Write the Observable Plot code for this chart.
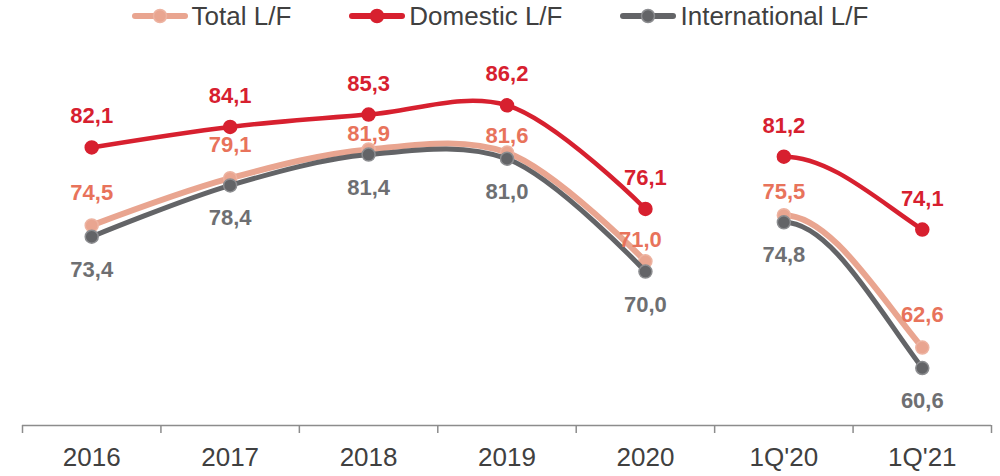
<!DOCTYPE html>
<html>
<head>
<meta charset="utf-8">
<script src="https://cdn.jsdelivr.net/npm/d3@7"></script>
<script src="https://cdn.jsdelivr.net/npm/@observablehq/plot@0.6"></script>
<style>
  html, body { margin: 0; padding: 0; background: #fff; }
  body { width: 1000px; height: 476px; overflow: hidden; font-family: "Liberation Sans", Arial, sans-serif; }
  #legend { height: 32px; display: flex; justify-content: center; align-items: center; gap: 58px; color: #404040; font-size: 26px; }
  .item { display: flex; align-items: center; gap: 4px; }
  .item svg { display: block; }
</style>
</head>
<body>
<div id="legend"></div>
<div id="chart"></div>
<script>
// ---- data ----
const categories = ["2016", "2017", "2018", "2019", "2020", "1Q'20", "1Q'21"];
const periodGroup = ["annual", "annual", "annual", "annual", "annual", "quarterly", "quarterly"];
const totalLF = [74.5, 79.1, 81.9, 81.6, 71.0, 75.5, 62.6];
const domesticLF = [82.1, 84.1, 85.3, 86.2, 76.1, 81.2, 74.1];
const internationalLF = [73.4, 78.4, 81.4, 81.0, 70.0, 74.8, 60.6];
const seriesNames = ["Total L/F", "Domestic L/F", "International L/F"];

// ---- styles ----
const lineColor = { "Total L/F": "#E9A590", "Domestic L/F": "#D7202F", "International L/F": "#636467" };
const dotStroke = { "Total L/F": "#EDB3A1", "Domestic L/F": "#D7202F", "International L/F": "#8C8D90" };
const labelColor = { "Total L/F": "#E8735B", "Domestic L/F": "#D7202F", "International L/F": "#6E6F72" };
const lineWidth = { "Total L/F": 6, "Domestic L/F": 4.5, "International L/F": 5 };
const totalLabelDy = [-32, -33, -16, -17, -21, -23, -33];
const totalLabelDx = [0, 0, 0, 0, -5, 0, 0];

const seriesValues = { "Total L/F": totalLF, "Domestic L/F": domesticLF, "International L/F": internationalLF };
const rows = [];
for (const s of seriesNames) {
  seriesValues[s].forEach((v, i) => rows.push({ series: s, i, cat: categories[i], group: periodGroup[i], value: v }));
}
const fmt = v => d3.format(".1f")(v).replace(".", ",");
const bySeries = s => rows.filter(d => d.series === s);

// smoothing similar to spreadsheet "smoothed line"
function smoothCurve(context) {
  let pts;
  return {
    areaStart() {}, areaEnd() {},
    lineStart() { pts = []; },
    point(x, y) { pts.push([+x, +y]); },
    lineEnd() {
      if (pts.length === 2) {
        const [[x0, y0], [x1, y1]] = pts;
        const dx = x1 - x0, dy = y1 - y0;
        context.moveTo(x0, y0);
        context.bezierCurveTo(x0 + dx / 3, y0, x1 - dx / 3, y0 + dy * 0.58, x1, y1);
      } else {
        const c = d3.curveCatmullRom(context);
        c.lineStart();
        for (const p of pts) c.point(p[0], p[1]);
        c.lineEnd();
      }
    }
  };
}

// legend
const legend = document.getElementById("legend");
for (const s of seriesNames) {
  const item = document.createElement("div");
  item.className = "item";
  item.innerHTML = `<svg width="56" height="16"><line x1="3" x2="53" y1="8" y2="8" stroke="${lineColor[s]}" stroke-width="6" stroke-linecap="round"/><circle cx="28" cy="8" r="6.5" fill="${lineColor[s]}" stroke="${dotStroke[s]}" stroke-width="1.5"/></svg><span>${s}</span>`;
  legend.appendChild(item);
}

const boundaries = d3.range(categories.length + 1).map(i => i - 0.5);
const yMin = 55;

const marks = [
  Plot.ruleY([yMin], { stroke: "#8C8C8C", strokeWidth: 1.5 }),
  Plot.axisX({ ticks: boundaries, tickSize: 8, tickFormat: () => "", label: null, stroke: "#8C8C8C", strokeWidth: 1.5 }),
  Plot.axisX({ ticks: d3.range(categories.length), tickSize: 0, tickPadding: 22, label: null, tickFormat: i => categories[i], fontSize: 26, fill: "#404040" })
];

for (const s of ["Total L/F", "International L/F", "Domestic L/F"]) {
  const data = bySeries(s);
  marks.push(
    Plot.line(data, { x: "i", y: "value", z: "group", stroke: lineColor[s], strokeWidth: lineWidth[s], curve: smoothCurve, strokeLinejoin: "round", strokeLinecap: "round" }),
    Plot.dot(data, { x: "i", y: "value", r: 6.5, fill: lineColor[s], stroke: dotStroke[s], strokeWidth: 1.5 })
  );
}

// labels
marks.push(
  Plot.text(bySeries("Domestic L/F"), { x: "i", y: "value", text: d => fmt(d.value), dy: -31, fill: labelColor["Domestic L/F"], fontSize: 22, fontWeight: "bold" }),
  Plot.text(bySeries("International L/F"), { x: "i", y: "value", text: d => fmt(d.value), dy: 33, fill: labelColor["International L/F"], fontSize: 22, fontWeight: "bold" })
);
bySeries("Total L/F").forEach((d, k) => {
  marks.push(Plot.text([d], { x: "i", y: "value", text: d => fmt(d.value), dy: totalLabelDy[k], dx: totalLabelDx[k], fill: labelColor["Total L/F"], fontSize: 22, fontWeight: "bold" }));
});

const chart = Plot.plot({
  width: 1000,
  height: 444,
  marginLeft: 22,
  marginRight: 9,
  marginTop: 0,
  marginBottom: 51,
  style: { fontFamily: "'Liberation Sans', Arial, sans-serif", background: "#fff", overflow: "visible" },
  x: { type: "linear", domain: [-0.5, categories.length - 0.5], axis: null },
  y: { domain: [yMin, 93.3], axis: null },
  marks
});
document.getElementById("chart").appendChild(chart);
</script>
</body>
</html>
